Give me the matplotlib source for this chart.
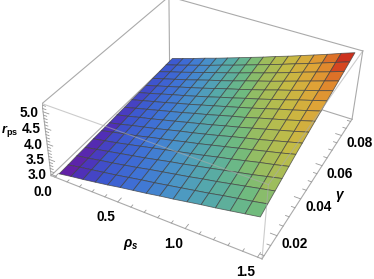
import numpy as np
import matplotlib
matplotlib.use('Agg')
import matplotlib.pyplot as plt
from matplotlib.colors import LinearSegmentedColormap, Normalize
from mpl_toolkits.mplot3d import proj3d

plt.rcParams['font.family'] = ['Liberation Sans', 'DejaVu Sans']
plt.rcParams['mathtext.fontset'] = 'custom'
plt.rcParams['mathtext.bf'] = 'Liberation Sans:bold'
plt.rcParams['mathtext.bfit'] = 'Liberation Sans:italic:bold'

# значения
rho = [0.015, 0.113, 0.211, 0.309, 0.407, 0.505, 0.603, 0.701,
       0.799, 0.897, 0.995, 1.093, 1.191, 1.289, 1.387, 1.485]
gam = [0.0100, 0.0153, 0.0207, 0.0260, 0.0313, 0.0367, 0.0420, 0.0473,
       0.0527, 0.0580, 0.0633, 0.0687, 0.0740, 0.0793, 0.0847, 0.0900]
rps = [
    [3.00, 3.07, 3.13, 3.20, 3.27, 3.35, 3.42, 3.49, 3.57, 3.64, 3.72, 3.80, 3.87, 3.95, 4.03, 4.11],
    [3.01, 3.09, 3.16, 3.23, 3.30, 3.38, 3.46, 3.53, 3.61, 3.69, 3.77, 3.85, 3.94, 4.02, 4.10, 4.19],
    [3.03, 3.10, 3.18, 3.25, 3.33, 3.41, 3.50, 3.58, 3.66, 3.74, 3.83, 3.91, 4.00, 4.09, 4.18, 4.27],
    [3.04, 3.12, 3.20, 3.28, 3.36, 3.44, 3.53, 3.62, 3.70, 3.79, 3.88, 3.97, 4.06, 4.15, 4.25, 4.35],
    [3.06, 3.14, 3.22, 3.31, 3.40, 3.49, 3.58, 3.67, 3.76, 3.85, 3.95, 4.04, 4.14, 4.24, 4.33, 4.43],
    [3.07, 3.16, 3.25, 3.33, 3.43, 3.52, 3.61, 3.71, 3.80, 3.90, 4.00, 4.10, 4.20, 4.30, 4.40, 4.51],
    [3.08, 3.17, 3.27, 3.36, 3.45, 3.55, 3.65, 3.74, 3.84, 3.94, 4.05, 4.15, 4.25, 4.36, 4.47, 4.58],
    [3.10, 3.19, 3.29, 3.38, 3.48, 3.58, 3.68, 3.78, 3.88, 3.99, 4.09, 4.20, 4.31, 4.42, 4.53, 4.65],
    [3.11, 3.21, 3.31, 3.41, 3.51, 3.61, 3.72, 3.82, 3.93, 4.04, 4.14, 4.26, 4.37, 4.48, 4.60, 4.72],
    [3.13, 3.23, 3.33, 3.43, 3.54, 3.64, 3.75, 3.86, 3.97, 4.08, 4.19, 4.31, 4.43, 4.54, 4.66, 4.78],
    [3.14, 3.24, 3.35, 3.46, 3.56, 3.67, 3.78, 3.90, 4.01, 4.13, 4.24, 4.36, 4.48, 4.61, 4.73, 4.85],
    [3.15, 3.26, 3.37, 3.48, 3.59, 3.70, 3.82, 3.94, 4.05, 4.17, 4.29, 4.42, 4.54, 4.67, 4.79, 4.92],
    [3.17, 3.28, 3.39, 3.50, 3.62, 3.74, 3.85, 3.97, 4.10, 4.22, 4.34, 4.47, 4.60, 4.73, 4.86, 4.99],
    [3.18, 3.30, 3.41, 3.53, 3.65, 3.77, 3.89, 4.01, 4.14, 4.26, 4.39, 4.52, 4.66, 4.79, 4.92, 5.06],
    [3.20, 3.31, 3.43, 3.55, 3.67, 3.80, 3.92, 4.05, 4.18, 4.31, 4.44, 4.58, 4.71, 4.85, 4.99, 5.13],
    [3.21, 3.33, 3.45, 3.58, 3.70, 3.83, 3.96, 4.09, 4.22, 4.36, 4.49, 4.63, 4.77, 4.91, 5.06, 5.20],
]

rho_ticks = [0.0, 0.5, 1.0, 1.5]
rho_labels = ['0.0', '0.5', '1.0', '1.5']
rho_minor = [0.1, 0.2, 0.3, 0.4, 0.6, 0.7, 0.8, 0.9, 1.1, 1.2, 1.3, 1.4]
gam_ticks = [0.02, 0.04, 0.06, 0.08]
gam_labels = ['0.02', '0.04', '0.06', '0.08']
gam_minor = [0.01, 0.015, 0.025, 0.03, 0.035, 0.045, 0.05, 0.055, 0.065, 0.07, 0.075, 0.085, 0.09]
rps_ticks = [3.0, 3.5, 4.0, 4.5, 5.0]
rps_labels = ['3.0', '3.5', '4.0', '4.5', '5.0']
rps_minor = [3.1, 3.2, 3.3, 3.4, 3.6, 3.7, 3.8, 3.9, 4.1, 4.2, 4.3, 4.4, 4.6, 4.7, 4.8, 4.9, 5.1, 5.2]

xlim = (-0.03, 1.53)
ylim = (0.0084, 0.0916)
zlim = (2.955, 5.245)

W, H = 374, 279
fig = plt.figure(figsize=(W / 100, H / 100), dpi=100)
ax = fig.add_axes([41.9 / W, -1.1 / H, 327.2 / W, 327.2 / H], projection='3d',
                  computed_zorder=False)
ax.set_axis_off()
ax.set_xlim(*xlim)
ax.set_ylim(*ylim)
ax.set_zlim(*zlim)
ax.view_init(36.83, -63.22, -1.536)
ax.set_proj_type('persp', focal_length=0.4635)
ax.set_box_aspect((1, 1.0201, 0.3844))

cmap = LinearSegmentedColormap.from_list('rb', [
    (0.00, '#6a1b9e'),
    (0.05, '#4f2fb8'),
    (0.10, '#3d55cf'),
    (0.20, '#3f74d6'),
    (0.30, '#4a95c8'),
    (0.40, '#57aba6'),
    (0.50, '#70bb7e'),
    (0.56, '#98bd60'),
    (0.68, '#c4bb45'),
    (0.80, '#dfa437'),
    (0.88, '#e07f2a'),
    (0.93, '#d33a1e'),
    (1.00, '#c2201a'),
])

X, Y = np.meshgrid(rho, gam)
Z = np.array(rps)
norm = Normalize(3.0, 5.2)
# цвет ячейки по среднему из четырёх углов
Zc = (Z[:-1, :-1] + Z[1:, :-1] + Z[:-1, 1:] + Z[1:, 1:]) / 4
fc = cmap(norm(Zc))
ax.plot_surface(X, Y, Z, rstride=1, cstride=1, facecolors=fc, shade=False,
                edgecolor=(0.25, 0.25, 0.25, 0.75), linewidth=0.6, zorder=2)

box = dict(color='#aaaaaa', lw=0.8)
x0, x1 = xlim
y0, y1 = ylim
z0, z1 = zlim
# задние рёбра под поверхностью
ax.plot([x0, x1], [y1, y1], [z0, z0], zorder=1, **box)
ax.plot([x0, x0], [y0, y1], [z0, z0], zorder=1, **box)
ax.plot([x0, x0], [y1, y1], [z0, z1], zorder=1, **box)
ax.plot([x1, x1], [y1, y1], [z0, z1], zorder=1, **box)
ax.plot([x0, x1], [y1, y1], [z1, z1], zorder=1, **box)
ax.plot([x0, x0], [y0, y1], [z1, z1], zorder=1, **box)
ax.plot([x0, x0], [y0, y0], [z0, z1], zorder=1, **box)
# передние рёбра поверх
front = dict(color='#aaaaaa', lw=0.8, alpha=0.6)
ax.plot([x0, x1], [y0, y0], [z0, z0], zorder=3, **box)
ax.plot([x1, x1], [y0, y1], [z0, z0], zorder=3, **box)
ax.plot([x1, x1], [y0, y0], [z0, z1], zorder=3, **front)
ax.plot([x0, x1], [y0, y0], [z1, z1], zorder=3, **front)
ax.plot([x1, x1], [y0, y1], [z1, z1], zorder=3, **front)

# засечки
tick = dict(color='#999999', lw=0.6, zorder=3)
for v in rho_ticks:
    ax.plot([v, v], [y0, y0 + 0.0022], [z0, z0], **tick)
for v in rho_minor:
    ax.plot([v, v], [y0, y0 + 0.0012], [z0, z0], **tick)
for v in gam_ticks:
    ax.plot([x1, x1 - 0.045], [v, v], [z0, z0], **tick)
for v in gam_minor:
    ax.plot([x1, x1 - 0.025], [v, v], [z0, z0], **tick)
for v in rps_ticks:
    ax.plot([x0, x0 + 0.045], [y0, y0], [v, v], **tick)
for v in rps_minor:
    ax.plot([x0, x0 + 0.025], [y0, y0], [v, v], **tick)

M = ax.get_proj()


def put_label(s, x, y, z, dx, dy):
    u, v, _ = proj3d.proj_transform(x, y, z, M)
    ax.annotate(s, (u, v), xytext=(dx, dy), textcoords='offset pixels', ha='center',
                va='center', fontsize=9.8, fontweight='bold', annotation_clip=False)


for v, s in zip(rho_ticks, rho_labels):
    put_label(s, v, y0, z0, -12, -15)
for v, s in zip(gam_ticks, gam_labels):
    put_label(s, x1, v, z0, 18, -8)
for v, s in zip(rps_ticks, rps_labels):
    put_label(s, x0, y0, v, -14, -1)

fig.text(9.5 / W, 1 - 131 / H, r'$\mathbfit{r}_{\mathbf{ps}}$', fontsize=9.2, ha='center', va='center')
fig.text(131 / W, 1 - 244 / H, r'$\mathbfit{\rho}_{\mathbfit{s}}$', fontsize=9.8, ha='center', va='center')
fig.text(340 / W, 1 - 197 / H, r'$\mathbfit{\gamma}$', fontsize=9.8, ha='center', va='center')

fig.savefig('out.png', dpi=100)
